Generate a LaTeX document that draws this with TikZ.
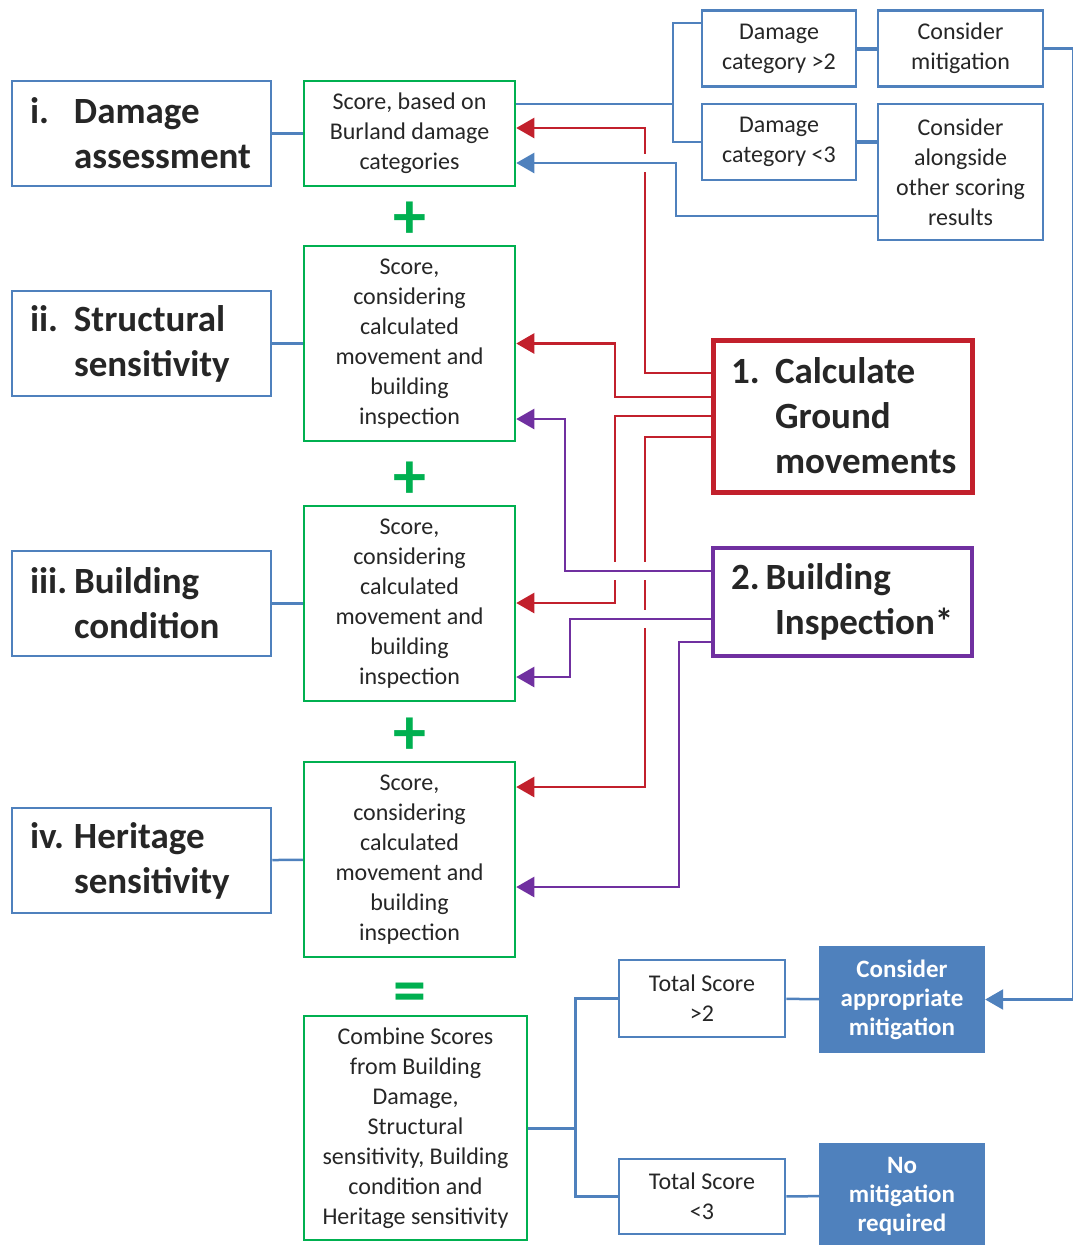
\documentclass[tikz,border=0pt]{standalone}
\usepackage{fontspec}
\setmainfont{Carlito}
\usetikzlibrary{positioning, arrows.meta}
\definecolor{boxblue}{RGB}{79,129,189}
\definecolor{scoregreen}{RGB}{0,176,80}
\definecolor{groundred}{RGB}{194,32,44}
\definecolor{inspurple}{RGB}{112,48,160}
\definecolor{txt}{RGB}{38,38,38}
\newcommand{\numlab}[1]{\makebox[44pt][l]{#1}} % number in front of a stage title
\newcommand{\indlab}{\hspace*{44pt}} % hanging indent of the next lines
\tikzset{
x=1pt, y=-1pt, % one unit is one pixel of the original, y runs downwards
every node/.style={text=txt, align=center},
stage/.style={draw=boxblue, line width=2.5pt, text width=223pt, inner xsep=18pt, minimum height=105pt, align=left, font=\fontsize{37}{45}\selectfont\bfseries}, % the four blue boxes on the left
score/.style={draw=scoregreen, line width=2.5pt, minimum width=211pt, font=\fontsize{24}{30}\selectfont}, % green score boxes
outcome/.style={draw=boxblue, line width=2.5pt, font=\fontsize{24}{30}\selectfont}, % thin blue result boxes
action/.style={fill=boxblue, text=white, minimum width=166pt, font=\fontsize{25}{29}\selectfont\bfseries}, % filled blue boxes
source/.style={text width=223pt, inner xsep=18pt, align=left, font=\fontsize{37}{45}\selectfont\bfseries}, % the two input boxes
op/.style={text=scoregreen, font=\fontsize{66}{66}\selectfont\bfseries}, % plus and equals signs
bline/.style={boxblue, line width=2.5pt},
barr/.style={bline, -{Triangle[length=18pt,width=20pt]}},
rarr/.style={groundred, line width=2.5pt, -{Triangle[length=18pt,width=20pt]}},
parr/.style={inspurple, line width=2.5pt, -{Triangle[length=18pt,width=20pt]}},
cutout/.style={fill=white}, % breaks a line where another one crosses it
}

\begin{document}
\begin{tikzpicture}
\useasboundingbox (0,0) rectangle (1072,1245);

% stages
\node[stage] at (141.5,133.5) (dmg) {\numlab{i.}Damage\\\indlab assessment};
\node[stage] at (141.5,343.5) (str) {\numlab{ii.}Structural\\\indlab sensitivity};
\node[stage] at (141.5,603.5) (cond) {\numlab{iii.}Building\\\indlab condition};
\node[stage] at (141.5,860.5) (her) {\numlab{iv.}Heritage\\\indlab sensitivity};

% scores
\node[score, minimum height=105pt] at (409.5,133.5) (sc1) {Score, based on\\Burland damage\\categories};
\node[score, minimum height=195pt] at (409.5,343.5) (sc2) {Score,\\considering\\calculated\\movement and\\building\\inspection};
\node[score, minimum height=195pt] at (409.5,603.5) (sc3) {Score,\\considering\\calculated\\movement and\\building\\inspection};
\node[score, minimum height=195pt] at (409.5,859.5) (sc4) {Score,\\considering\\calculated\\movement and\\building\\inspection};
\node[score, minimum width=223pt, minimum height=224pt, inner xsep=2pt] at (415.5,1128) (comb) {Combine Scores\\from Building\\Damage,\\Structural\\sensitivity, Building\\condition and\\Heritage sensitivity};

\node[op] at (410,220) (plus1) {+};
\node[op] at (410,480) (plus2) {+};
\node[op] at (410,736) (plus3) {+};
\node[op] at (410,998) (equal) {=};

% damage categories
\node[outcome, minimum width=154pt, minimum height=76pt] at (779,48.5) (dam2) {Damage\\category >2};
\node[outcome, minimum width=154pt, minimum height=76pt] at (779,142) (dam3) {Damage\\category <3};
\node[outcome, minimum width=165pt, minimum height=76pt] at (960.5,48.5) (mitig) {Consider\\mitigation};
\node[outcome, minimum width=165pt, minimum height=136pt] at (960.5,172) (along) {Consider\\alongside\\other scoring\\results};

% inputs
\node[source, draw=groundred, line width=5pt, minimum height=152pt] at (842.5,416) (calc) {\numlab{1.}Calculate\\\indlab Ground\\\indlab \mbox{movements}};
\node[source, draw=inspurple, line width=4pt, minimum height=108pt] at (842.5,602) (insp) {2.\hspace{6pt}Building\\\indlab Inspection*};

% totals
\node[outcome, minimum width=166pt, minimum height=77pt] at (702,998.5) (ts2) {Total Score\\>2};
\node[outcome, minimum width=166pt, minimum height=75pt] at (702,1196.5) (ts3) {Total Score\\<3};
\node[action, minimum height=107pt] at (902,999.5) (appr) {Consider\\appropriate\\mitigation};
\node[action, minimum height=106pt] at (902,1196) (nomit) {No\\mitigation\\required};

% stage to score
\draw[bline] (dmg) -- (sc1);
\draw[bline] (str) -- (sc2);
\draw[bline] (cond) -- (sc3);
\draw[bline] (her) -- (sc4);

% ground movements
\draw[rarr] (calc.west |- 0,373) -| (645,128) -- (sc1.east |- 0,128);
\draw[rarr] (calc.west |- 0,397) -| (615,343.5) -- (sc2.east);
\draw[rarr] (calc.west |- 0,416) -| (615,603) -- (sc3.east |- 0,603);
\draw[rarr] (calc.west |- 0,437) -| (645,787) -- (sc4.east |- 0,787);

\fill[cutout] (642,154) rectangle (648,172);
\fill[cutout] (642,562) rectangle (648,580);
\fill[cutout] (612,562) rectangle (618,580);
\fill[cutout] (642,610) rectangle (648,628);

% building inspection
\draw[parr] (insp.west |- 0,571) -| (565,419) -- (sc2.east |- 0,419);
\draw[parr] (insp.west |- 0,619) -| (570,677) -- (sc3.east |- 0,677);
\draw[parr] (insp.west |- 0,642) -| (679,887) -- (sc4.east |- 0,887);

% damage category branch
\draw[bline] (sc1.east |- 0,104) -| (673,23) -- (dam2.west |- 0,23);
\draw[bline] (673,104) |- (dam3.west);
\draw[boxblue, line width=4pt] (dam2) -- (mitig);
\draw[boxblue, line width=4pt] (dam3.east) -- (dam3.east -| along.west);
\draw[barr] (along.west |- 0,216) -| (676,163) -- (sc1.east |- 0,163);
\draw[barr] (mitig.east) -- ++(29,0) |- (appr.east);

% total score branch
\draw[boxblue, line width=3pt] (comb.east) -- ++(47,0) coordinate (split);
\draw[bline] (split) |- (ts2.west);
\draw[bline] (split) |- (ts3.west);
\draw[bline] (ts2) -- (appr);
\draw[bline] (ts3) -- (nomit);

\end{tikzpicture}
\end{document}
